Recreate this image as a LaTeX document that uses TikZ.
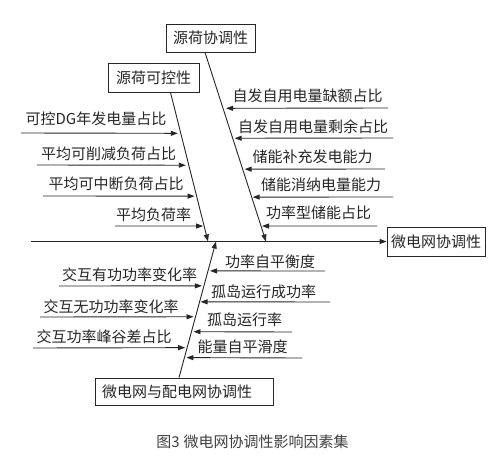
\documentclass[tikz,border=0pt]{standalone}
\usepackage{fontspec}
\setmainfont{Noto Sans CJK SC}
\usetikzlibrary{arrows.meta,calc}
\begin{document}
\begin{tikzpicture}[x=1pt,y=-1pt,
  box/.style={draw=black!85,line width=0.9pt,inner sep=0pt,font=\fontsize{15pt}{18pt}\selectfont,text=black!85},
  lbl/.style={inner sep=0pt,font=\fontsize{15pt}{18pt}\selectfont,text=black!85},
  arr/.style={draw=black!85,line width=0.9pt,-{Triangle[length=7pt,width=5pt]}}]
\useasboundingbox (0,0) rectangle (500,460);
\fill[white] (0,0) rectangle (500,460);

% boxes
\node[box,minimum width=89pt,minimum height=28pt] (xt) at (210.5,38) {源荷协调性};
\node[box,minimum width=91pt,minimum height=29pt] (kk) at (153.5,77.5) {源荷可控性};
\node[box,minimum width=98pt,minimum height=29pt] (wd) at (436,241.5) {微电网协调性};
\node[box,minimum height=27pt,text width=164pt,align=left,inner xsep=7pt] (pd) at (184,391.5) {微电网与配电网协调性};

% spine
\coordinate (s0) at (31,241.5);
\draw[arr] (s0) -- (s0 -| wd.west);

% diagonals
\coordinate (d1a) at ([xshift=17pt]kk.south);
\coordinate (d1b) at (208,241.5);
\coordinate (d2a) at ([xshift=-5.5pt]xt.south);
\coordinate (d2b) at (266,241.5);
\coordinate (d3a) at ([xshift=-5pt]pd.north);
\coordinate (d3b) at (216,241.5);
\draw[arr] (d1a) -- (d1b);
\draw[arr] (d2a) -- (d2b);
\draw[arr] (d3a) -- (d3b);

% upper left branches
\node[lbl] (l1) at (96,119) {可控DG年发电量占比};
\node[lbl] (l2) at (108.5,154) {平均可削减负荷占比};
\node[lbl] (l3) at (116,184) {平均可中断负荷占比};
\node[lbl] (l4) at (153.5,215) {平均负荷率};
\coordinate (tl1) at (21,133);
\coordinate (tl2) at (37,165);
\coordinate (tl3) at (43,196);
\coordinate (tl4) at (115,226);
\draw[arr] (tl1) -- ($(d1a)!{(133-92)/149.5}!(d1b)+(-3,0)$);
\draw[arr] (tl2) -- ($(d1a)!{(165-92)/149.5}!(d1b)+(-3,0)$);
\draw[arr] (tl3) -- ($(d1a)!{(196-92)/149.5}!(d1b)+(-2,0)$);
\draw[arr] (tl4) -- ($(d1a)!{(226-92)/149.5}!(d1b)+(-1,0)$);

% upper right branches
\node[lbl] (r1) at (307.5,96) {自发自用电量缺额占比};
\node[lbl] (r2) at (313,127) {自发自用电量剩余占比};
\node[lbl] (r3) at (312.5,157) {储能补充发电能力};
\node[lbl] (r4) at (321,185) {储能消纳电量能力};
\node[lbl] (r5) at (318.5,213) {功率型储能占比};
\coordinate (tr1) at (388,108);
\coordinate (tr2) at (393,138);
\coordinate (tr3) at (385,169);
\coordinate (tr4) at (393,197);
\coordinate (tr5) at (377,226);
\draw[arr] (tr1) -- ($(d2a)!{(108-52)/189.5}!(d2b)+(3,0)$);
\draw[arr] (tr2) -- ($(d2a)!{(138-52)/189.5}!(d2b)+(2,0)$);
\draw[arr] (tr3) -- ($(d2a)!{(169-52)/189.5}!(d2b)+(2,0)$);
\draw[arr] (tr4) -- ($(d2a)!{(197-52)/189.5}!(d2b)+(1,0)$);
\draw[arr] (tr5) -- ($(d2a)!{(226-52)/189.5}!(d2b)+(1,0)$);

% lower left branches
\node[lbl] (m1) at (129.5,275) {交互有功功率变化率};
\node[lbl] (m2) at (111,307) {交互无功功率变化率};
\node[lbl] (m3) at (104,337) {交互功率峰谷差占比};
\coordinate (tm1) at (59,286);
\coordinate (tm2) at (40,317);
\coordinate (tm3) at (33,348);
\draw[arr] (tm1) -- ($(d3a)!{(378-286)/136.5}!(d3b)+(-2,0)$);
\draw[arr] (tm2) -- ($(d3a)!{(378-317)/136.5}!(d3b)+(-2,0)$);
\draw[arr] (tm3) -- ($(d3a)!{(378-348)/136.5}!(d3b)+(-2,0)$);

% lower right branches
\node[lbl] (n1) at (270,262) {功率自平衡度};
\node[lbl] (n2) at (263.5,292) {孤岛运行成功率};
\node[lbl] (n3) at (244.5,320) {孤岛运行率};
\node[lbl] (n4) at (242.5,347) {能量自平滑度};
\coordinate (tn1) at (325,271);
\coordinate (tn2) at (330,302);
\coordinate (tn3) at (292,332);
\coordinate (tn4) at (302,358);
\draw[arr] (tn1) -- ($(d3a)!{(378-271)/136.5}!(d3b)+(2,0)$);
\draw[arr] (tn2) -- ($(d3a)!{(378-302)/136.5}!(d3b)+(1,0)$);
\draw[arr] (tn3) -- ($(d3a)!{(378-332)/136.5}!(d3b)+(2,0)$);
\draw[arr] (tn4) -- ($(d3a)!{(378-358)/136.5}!(d3b)+(2,0)$);

% caption
\node[inner sep=0pt,font=\fontsize{15pt}{18pt}\selectfont,text=black!75] (cap) at (252.5,442) {图3\hspace{4pt}微电网协调性影响因素集};
\end{tikzpicture}
\end{document}
